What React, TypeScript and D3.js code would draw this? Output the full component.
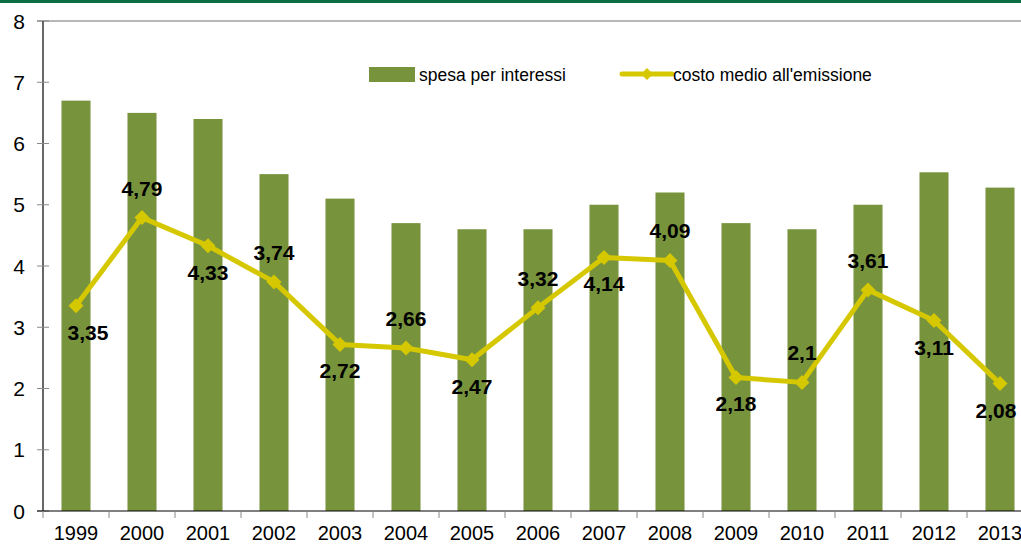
import React from "react";
import * as d3 from "d3";

const years = ["1999","2000","2001","2002","2003","2004","2005","2006","2007","2008","2009","2010","2011","2012","2013"];
const spesa = [6.7, 6.5, 6.4, 5.5, 5.1, 4.7, 4.6, 4.6, 5.0, 5.2, 4.7, 4.6, 5.0, 5.53, 5.28];
const costo = [3.35, 4.79, 4.33, 3.74, 2.72, 2.66, 2.47, 3.32, 4.14, 4.09, 2.18, 2.1, 3.61, 3.11, 2.08];
const costoLabels = ["3,35","4,79","4,33","3,74","2,72","2,66","2,47","3,32","4,14","4,09","2,18","2,1","3,61","3,11","2,08"];
const labelAbove = [false, true, false, true, false, true, false, true, false, true, false, true, true, false, false];
const yTicks = [0, 1, 2, 3, 4, 5, 6, 7, 8];
const seriesNames = ["spesa per interessi", "costo medio all'emissione"];

const W = 1021, H = 545;
const FONT = "'Liberation Sans', Arial, sans-serif";
const BAR = "#77933c";
const LINE = "#d6c800";

export default function App() {
  const x = d3.scaleBand<string>().domain(years).range([43, 43 + 66 * 15]).paddingInner(0.56).paddingOuter(0.28);
  const y = d3.scaleLinear().domain([0, 8]).range([511, 21]);
  const cx = (i: number) => (x(years[i]) as number) + x.bandwidth() / 2;
  const line = d3.line<number>().x((_, i) => cx(i)).y((d) => y(d));
  const step = x.step();
  const diamond = (px: number, py: number, r: number) => `M${px},${py - r}L${px + r},${py}L${px},${py + r}L${px - r},${py}Z`;
  const nudge = (i: number) => (i === 0 ? 12 : i === years.length - 1 ? -4 : 0);

  return (
    <svg width={W} height={H} style={{ position: "fixed", left: 0, top: 0, background: "#fff" }} fontFamily={FONT}>
      <rect x={0} y={0} width={W} height={3} fill="#0b6e45" />
      <line x1={37} x2={W} y1={y(8)} y2={y(8)} stroke="#a0a0a0" strokeWidth={1.5} />
      {spesa.map((v, i) => (
        <rect key={i} x={x(years[i])} y={y(v)} width={x.bandwidth()} height={y(0) - y(v)} fill={BAR} />
      ))}
      {/* y axis */}
      <line x1={43} x2={43} y1={y(8)} y2={y(0)} stroke="#000" strokeWidth={1.2} />
      {yTicks.map((t) => (
        <g key={t}>
          <line x1={37} x2={49} y1={y(t)} y2={y(t)} stroke="#8a8a8a" strokeWidth={1} />
          <text x={25} y={y(t)} dy="0.36em" textAnchor="end" fontSize={21} fill="#000">{t}</text>
        </g>
      ))}
      {/* x axis */}
      <line x1={37} x2={W} y1={y(0)} y2={y(0)} stroke="#000" strokeWidth={1.2} />
      {years.map((yr, i) => (
        <g key={yr}>
          <line x1={43 + step * i} x2={43 + step * i} y1={y(0)} y2={y(0) + 7} stroke="#8a8a8a" strokeWidth={1} />
          <text x={cx(i)} y={540} textAnchor="middle" fontSize={20} fill="#000">{yr}</text>
        </g>
      ))}
      <path d={line(costo) || ""} fill="none" stroke={LINE} strokeWidth={5} strokeLinejoin="round" />
      {costo.map((v, i) => (
        <path key={i} d={diamond(cx(i), y(v), 7.5)} fill={LINE} />
      ))}
      {costo.map((v, i) => (
        <text key={i} x={cx(i) + nudge(i)} y={labelAbove[i] ? y(v) - 22 : y(v) + 34} textAnchor="middle" fontSize={21} fontWeight="bold" fill="#000">{costoLabels[i]}</text>
      ))}
      {/* legend */}
      <rect x={369} y={67} width={46} height={15} fill={BAR} />
      <text x={419} y={81} fontSize={17.5} fill="#000">{seriesNames[0]}</text>
      <line x1={622} x2={672} y1={74} y2={74} stroke={LINE} strokeWidth={5} strokeLinecap="round" />
      <path d={diamond(647, 74, 6)} fill={LINE} />
      <text x={673} y={81} fontSize={17.5} fill="#000">{seriesNames[1]}</text>
    </svg>
  );
}
